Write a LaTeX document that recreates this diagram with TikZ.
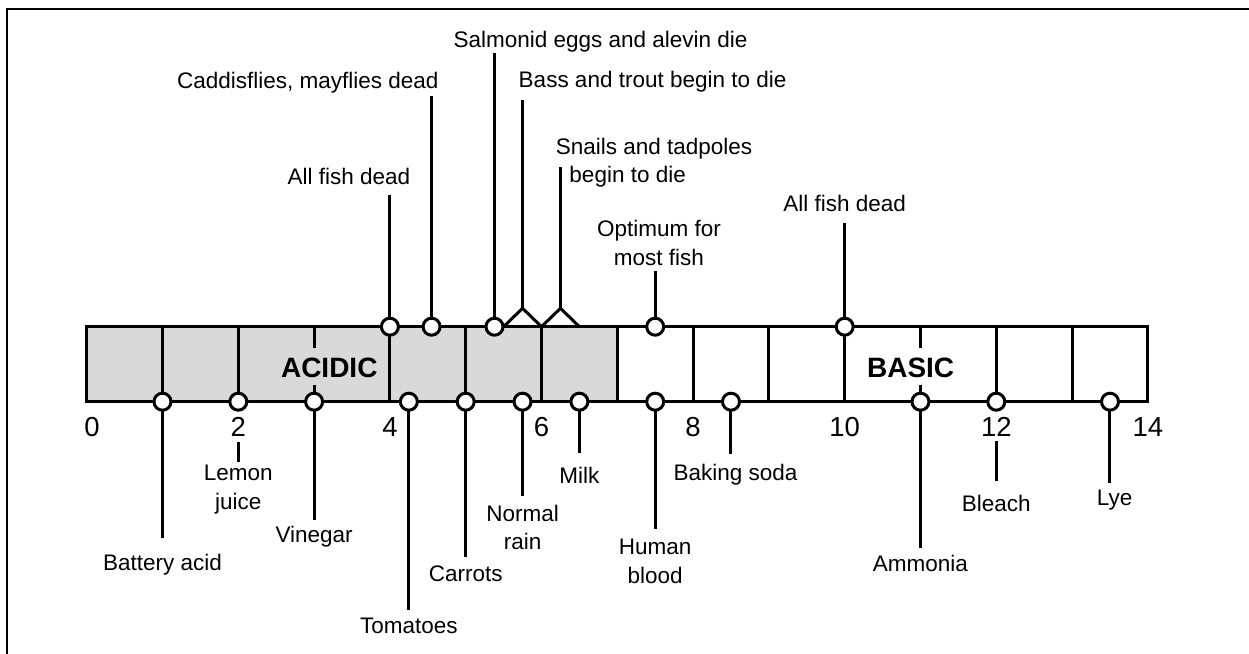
\documentclass[tikz,border=0pt]{standalone}
\usepackage{fontspec}
\setmainfont{Liberation Sans}
\usetikzlibrary{positioning}
\definecolor{acidgray}{RGB}{217,217,217}

\begin{document}
\begin{tikzpicture}[
  x=75.8pt, y=1pt,
  line width=3pt,
  dot/.style={circle, draw, fill=white, inner sep=0pt, minimum size=17pt},
  lbl/.style={font=\fontsize{22.5}{28.5}\selectfont, align=center, inner sep=0pt},
  num/.style={font=\fontsize{27.5}{30}\selectfont, inner sep=0pt},
  zone/.style={font=\fontsize{28}{32}\selectfont\bfseries, inner sep=0pt}
]
\useasboundingbox (-1.1438,0) rectangle (15.334,654);
\draw[line width=2.5pt] (-1.0515,-5) -- (-1.0515,644.8) -- (15.5,644.8);

% pH bar
\fill[acidgray] (0,252.3) rectangle (7,327.3);
\draw (0,252.3) rectangle (14,327.3);
\foreach \p in {1,2,4,5,6,7,8,9,10,12,13}
  \draw (\p,252.3) -- (\p,327.3);
\foreach \p in {3,11} {
  \draw (\p,252.3) -- (\p,269);
  \draw (\p,305.7) -- (\p,327.3);
}
\node[zone] (acidic) at (3.2,285.7) {ACIDIC};
\node[zone] (basic) at (10.87,285.7) {BASIC};

\node[num] (n0) at (0.07,227.3) {0};
\foreach \p in {2,4,...,14}
  \node[num] (n\p) at (\p,227.3) {\p};

% upper markers
\coordinate (pk1) at (5.75,345.7);
\coordinate (pk2) at (6.25,345.7);
\draw (5.5,327.3) -- (pk1) -- (6,327.3) -- (pk2) -- (6.5,327.3);

\node[dot] (t4) at (4,327.3) {};
\node[dot] (t45) at (4.55,327.3) {};
\node[dot] (t54) at (5.38,327.3) {};
\node[dot] (t75) at (7.5,327.3) {};
\node[dot] (t10) at (10,327.3) {};

\node[lbl] (fish1) at (3.46,477.3) {All fish dead};
\node[lbl, anchor=east] (caddis) at (4.66,571.3) {Caddisflies, mayflies dead};
\node[lbl, anchor=west] (salmon) at (4.82,612.3) {Salmonid eggs and alevin die};
\node[lbl, anchor=west] (bass) at (5.68,572.3) {Bass and trout begin to die};
\node[lbl, anchor=west, align=left] (snails) at (6.17,491.5) {Snails and tadpoles\\\hspace*{13.6pt}begin to die};
\node[lbl] (optimum) at (7.55,411) {Optimum for\\most fish};
\node[lbl] (fish2) at (10,451) {All fish dead};

\foreach \n/\p/\y in {t4/4/459, t45/4.55/558, t54/5.38/600.7, pk1/5.75/554,
                      pk2/6.25/487.3, t75/7.5/383.3, t10/10/430.7} {
  \coordinate (\n e) at (\p,\y);
  \draw (\n) -- (\n e);
}

% lower markers
\foreach \n/\p/\y in {b1/1/115.7, b3/3/134, b425/4.25/44, b5/5/96.7,
                      b575/5.75/158, b65/6.5/200.7, b75/7.5/125,
                      b85/8.5/200, b11/11/105.7, b135/13.5/171.3} {
  \coordinate (\n e) at (\p,\y);
  \draw (\n e) -- (\p,252.3);
  \node[dot] (\n) at (\p,252.3) {};
}
\node[dot] (b2) at (2,252.3) {};
\node[dot] (b12) at (12,252.3) {};

\node[lbl] (battery) at (1,89) {Battery acid};
\node[lbl] (lemon) at (2,164.5) {Lemon\\juice};
\node[lbl] (vinegar) at (3,117.3) {Vinegar};
\node[lbl] (tomatoes) at (4.25,28.3) {Tomatoes};
\node[lbl] (carrots) at (5,80) {Carrots};
\node[lbl] (rain) at (5.75,126.5) {Normal\\rain};
\node[lbl] (milk) at (6.5,179) {Milk};
\node[lbl] (blood) at (7.5,92.7) {Human\\blood};
\node[lbl] (soda) at (8.56,179) {Baking soda};
\node[lbl] (ammonia) at (11,90.7) {Ammonia};
\node[lbl] (bleach) at (12,150.7) {Bleach};
\node[lbl] (lye) at (13.56,154) {Lye};

\draw[shorten <=4pt, shorten >=1.5pt] (n2) -- (lemon);
\draw[shorten <=3.3pt, shorten >=12.5pt] (n12) -- (bleach);
\end{tikzpicture}
\end{document}
